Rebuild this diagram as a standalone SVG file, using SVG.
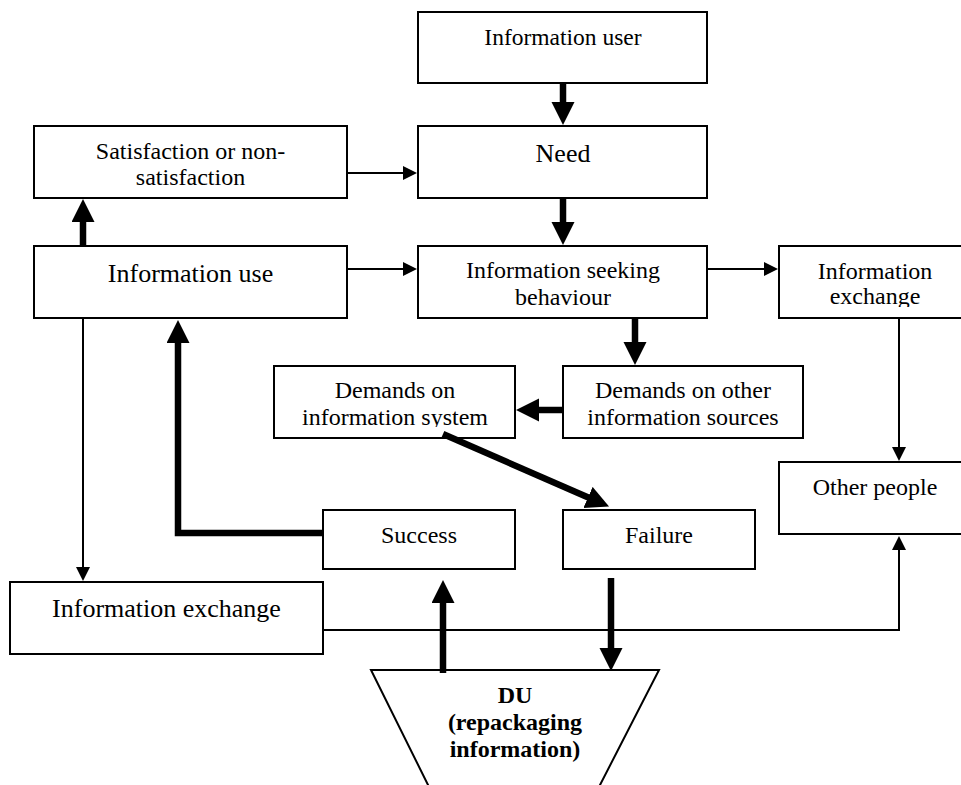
<svg xmlns="http://www.w3.org/2000/svg" width="961" height="785" viewBox="0 0 961 785">
  <style>
    .box { fill: #fff; stroke: #000; stroke-width: 2; }
    .lbl { font-family: 'Liberation Serif', 'Tinos', 'Times New Roman', 'DejaVu Serif', serif; font-size: 24px; fill: #000; text-anchor: middle; }
    .big { font-size: 26px; }
    .bold { font-weight: bold; }
    .thick { fill: none; stroke: #000; stroke-width: 6.5; stroke-linejoin: miter; marker-end: url(#headThick); }
    .thin { fill: none; stroke: #000; stroke-width: 2; stroke-linejoin: miter; marker-end: url(#headThin); }
  </style>
  <defs>
    <marker id="headThick" markerUnits="userSpaceOnUse" markerWidth="24" markerHeight="24" refX="1" refY="11.5" orient="auto">
      <path d="M0,0 L23,11.5 L0,23 Z" fill="#000"/>
    </marker>
    <marker id="headThin" markerUnits="userSpaceOnUse" markerWidth="15" markerHeight="15" refX="1" refY="7" orient="auto">
      <path d="M0,0 L14,7 L0,14 Z" fill="#000"/>
    </marker>
    <clipPath id="clipExch"><rect x="779" y="246" width="200" height="61"/></clipPath>
    <clipPath id="clipSys"><rect x="274" y="366" width="241" height="61"/></clipPath>
  </defs>
  <rect width="961" height="785" fill="#fff"/>

  <g id="information-user">
    <rect class="box" x="418" y="12" width="289" height="71"/>
    <text class="lbl" x="563" y="45" font-family="Liberation Serif, serif" style="font-size:23.5px">Information user</text>
  </g>
  <g id="need">
    <rect class="box" x="418" y="126" width="289" height="72"/>
    <text class="lbl big" x="563" y="162">Need</text>
  </g>
  <g id="satisfaction">
    <rect class="box" x="34" y="126" width="313" height="72"/>
    <text class="lbl" x="190.5" y="159">Satisfaction or non-</text>
    <text class="lbl" x="190.5" y="185">satisfaction</text>
  </g>
  <g id="information-use">
    <rect class="box" x="34" y="246" width="313" height="72"/>
    <text class="lbl big" x="190.5" y="282">Information use</text>
  </g>
  <g id="seeking-behaviour">
    <rect class="box" x="418" y="246" width="289" height="72"/>
    <text class="lbl" x="563" y="278">Information seeking</text>
    <text class="lbl" x="563" y="305">behaviour</text>
  </g>
  <g id="information-exchange-right">
    <rect class="box" x="779" y="246" width="190" height="72"/>
    <g clip-path="url(#clipExch)">
      <text class="lbl" x="875" y="279">Information</text>
      <text class="lbl" x="875" y="304">exchange</text>
    </g>
  </g>
  <g id="demands-system">
    <rect class="box" x="274" y="366" width="241" height="72"/>
    <g clip-path="url(#clipSys)">
      <text class="lbl" x="395" y="398">Demands on</text>
      <text class="lbl" x="395" y="425">information system</text>
    </g>
  </g>
  <g id="demands-other">
    <rect class="box" x="563" y="366" width="240" height="72"/>
    <text class="lbl" x="683" y="398">Demands on other</text>
    <text class="lbl" x="683" y="425">information sources</text>
  </g>
  <g id="other-people">
    <rect class="box" x="779" y="462" width="190" height="72"/>
    <text class="lbl" x="875" y="495">Other people</text>
  </g>
  <g id="success">
    <rect class="box" x="323" y="510" width="192" height="59"/>
    <text class="lbl" x="419" y="543">Success</text>
  </g>
  <g id="failure">
    <rect class="box" x="563" y="510" width="192" height="59"/>
    <text class="lbl" x="659" y="543">Failure</text>
  </g>
  <g id="information-exchange-bottom">
    <rect class="box" x="10" y="582" width="313" height="72"/>
    <text class="lbl big" x="166.5" y="617">Information exchange</text>
  </g>
  <g id="du">
    <path class="box" d="M435.5,800 L371,670 L659,670 L592.3,800"/>
    <text class="lbl bold" x="515" y="703">DU</text>
    <text class="lbl bold" x="515" y="730">(repackaging</text>
    <text class="lbl bold" x="515" y="757">information)</text>
  </g>

  <g id="connectors">
    <path class="thick" d="M563,83 V103"/>
    <path class="thick" d="M563,198 V223"/>
    <path class="thin" d="M347,173 H404"/>
    <path class="thick" d="M83,246 V221"/>
    <path class="thin" d="M347,269 H404"/>
    <path class="thin" d="M707,269 H765"/>
    <path class="thick" d="M635,318 V343"/>
    <path class="thick" d="M563,410 H538"/>
    <path class="thick" d="M443,434 L588.9,497.8"/>
    <path class="thin" d="M899,318 V448"/>
    <path class="thick" d="M323,533 H178 V342"/>
    <path class="thin" d="M83,318 V568"/>
    <path class="thin" d="M323,630 H899 V549"/>
    <path class="thick" d="M443,673 V602"/>
    <path class="thick" d="M611,578 V649"/>
  </g>
</svg>
